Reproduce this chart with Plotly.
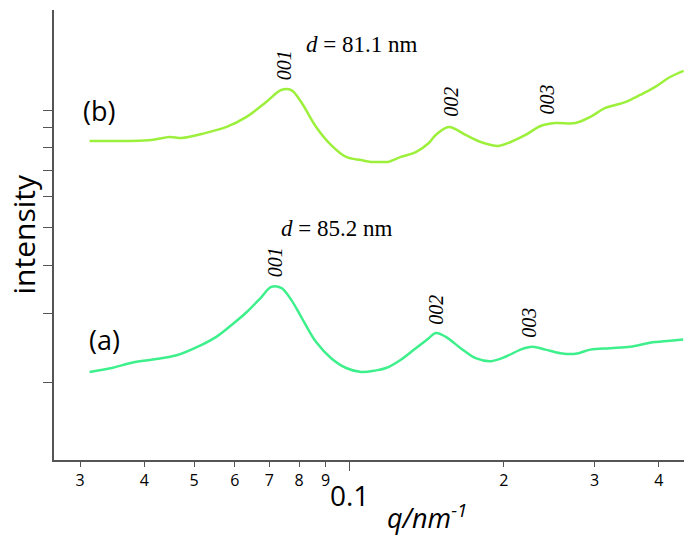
import math
import plotly.graph_objects as go

# q values (nm^-1) and intensities (arb. units, log scale)
q_b = [0.0313, 0.0413, 0.0448, 0.0473, 0.0517, 0.0578, 0.0632, 0.0690, 0.0738, 0.0772,
       0.0807, 0.0863, 0.0923, 0.0987, 0.1055, 0.1103, 0.1153, 0.1190, 0.1261, 0.1348,
       0.1429, 0.1474, 0.1563, 0.1685, 0.1803, 0.1953, 0.2061, 0.2203, 0.2356, 0.2519,
       0.2754, 0.2944, 0.3148, 0.3442, 0.3681, 0.3936, 0.4207, 0.4470]
i_b = [8.33, 8.38, 8.53, 8.48, 8.68, 9.05, 9.60, 10.48, 11.25, 11.25,
       10.48, 9.05, 8.13, 7.58, 7.44, 7.36, 7.36, 7.36, 7.58, 7.80,
       8.23, 8.63, 9.05, 8.63, 8.28, 8.09, 8.28, 8.63, 9.10, 9.26,
       9.26, 9.60, 10.12, 10.48, 10.93, 11.46, 12.15, 12.60]

q_a = [0.0313, 0.0346, 0.0378, 0.0413, 0.0462, 0.0517, 0.0552, 0.0591, 0.0632, 0.0675,
       0.0706, 0.0738, 0.0772, 0.0807, 0.0863, 0.0923, 0.0987, 0.1055, 0.1128, 0.1180,
       0.1261, 0.1348, 0.1429, 0.1474, 0.1542, 0.1648, 0.1762, 0.1885, 0.2015, 0.2154,
       0.2273, 0.2409, 0.2575, 0.2754, 0.2944, 0.3219, 0.3520, 0.3848, 0.4207, 0.4461]
i_a = [2.13, 2.18, 2.25, 2.29, 2.35, 2.50, 2.62, 2.81, 3.03, 3.31,
       3.52, 3.50, 3.26, 2.95, 2.54, 2.31, 2.18, 2.13, 2.15, 2.18,
       2.29, 2.45, 2.60, 2.68, 2.62, 2.45, 2.31, 2.27, 2.33, 2.43,
       2.47, 2.43, 2.38, 2.37, 2.43, 2.45, 2.47, 2.53, 2.56, 2.58]

x_tickvals = [0.03, 0.04, 0.05, 0.06, 0.07, 0.08, 0.09, 0.2, 0.3, 0.4]
x_ticktext = ["3", "4", "5", "6", "7", "8", "9", "2", "3", "4"]
y_tickvals = [2, 3, 4, 5, 6, 7, 8, 9, 10]

peak_labels = ["001", "002", "003"]
peaks_b_q = [0.0748, 0.1576, 0.2430]
peaks_b_i = [13.04, 10.48, 10.67]
peaks_a_q = [0.0716, 0.1474, 0.2243]
peaks_a_i = [4.08, 3.07, 2.84]

d_texts = ["<i>d</i> = 81.1 nm", "<i>d</i> = 85.2 nm"]
d_q = [0.1055, 0.0944]
d_i = [14.68, 4.98]

sample_texts = ["(b)", "(a)"]
sample_q = [0.0326, 0.0335]
sample_i = [10.0, 2.58]

color_b = "#9cf03c"
color_a = "#3ef08c"
serif = "Liberation Serif"
sans = "Open Sans"

L = math.log10

fig = go.Figure()
fig.add_trace(go.Scatter(x=q_b, y=i_b, mode="lines", line=dict(color=color_b, width=2.5),
                         line_shape="spline", showlegend=False))
fig.add_trace(go.Scatter(x=q_a, y=i_a, mode="lines", line=dict(color=color_a, width=2.5),
                         line_shape="spline", showlegend=False))

ann = []
for qs, ys in ((peaks_b_q, peaks_b_i), (peaks_a_q, peaks_a_i)):
    for lbl, xq, yi in zip(peak_labels, qs, ys):
        ann.append(dict(x=L(xq), y=L(yi), text="<i>" + lbl + "</i>", showarrow=False,
                        textangle=-90, xanchor="center", yanchor="middle",
                        font=dict(family=serif, size=20, color="black")))
for t, xq, yi in zip(d_texts, d_q, d_i):
    ann.append(dict(x=L(xq), y=L(yi), text=t, showarrow=False, xanchor="center",
                    yanchor="middle", font=dict(family=serif, size=23, color="black")))
for t, xq, yi in zip(sample_texts, sample_q, sample_i):
    ann.append(dict(x=L(xq), y=L(yi), text=t, showarrow=False, xanchor="center",
                    yanchor="middle", font=dict(family=sans, size=27, color="black")))

ann += [
    dict(x=L(0.1), y=-0.078, yref="paper", text="0.1", showarrow=False,
         xanchor="center", yanchor="middle",
         font=dict(family=sans, size=28, color="black")),
    dict(x=L(0.142), y=-0.126, yref="paper", text="<i>q/nm<sup>-1</sup></i>", showarrow=False,
         xanchor="center", yanchor="middle",
         font=dict(family=sans, size=27, color="black")),
    dict(x=-0.05, y=0.50, xref="paper", yref="paper", text="intensity", showarrow=False,
         xanchor="center", yanchor="middle",
         textangle=-90, font=dict(family=sans, size=30, color="black")),
]

fig.update_layout(
    width=690, height=536,
    margin=dict(l=54, r=6, t=10, b=76),
    paper_bgcolor="white", plot_bgcolor="white",
    annotations=ann,
    xaxis=dict(type="log", range=[-1.5735, -0.3490], showgrid=False, zeroline=False,
               showline=True, linecolor="#555", linewidth=1.5,
               tickmode="array", tickvals=x_tickvals, ticktext=x_ticktext,
               ticks="outside", ticklen=5, tickcolor="#555",
               tickfont=dict(family=sans, size=16, color="black"),
               minor=dict(tickmode="array", tickvals=[0.1], ticks="outside", ticklen=9,
                          tickcolor="#555")),
    yaxis=dict(type="log", range=[0.1026, 1.2564], showgrid=False, zeroline=False,
               showline=True, linecolor="#555", linewidth=1.5,
               tickmode="array", tickvals=y_tickvals, showticklabels=False,
               ticks="outside", ticklen=9, tickcolor="#555"),
)

fig.write_html("out.html")
